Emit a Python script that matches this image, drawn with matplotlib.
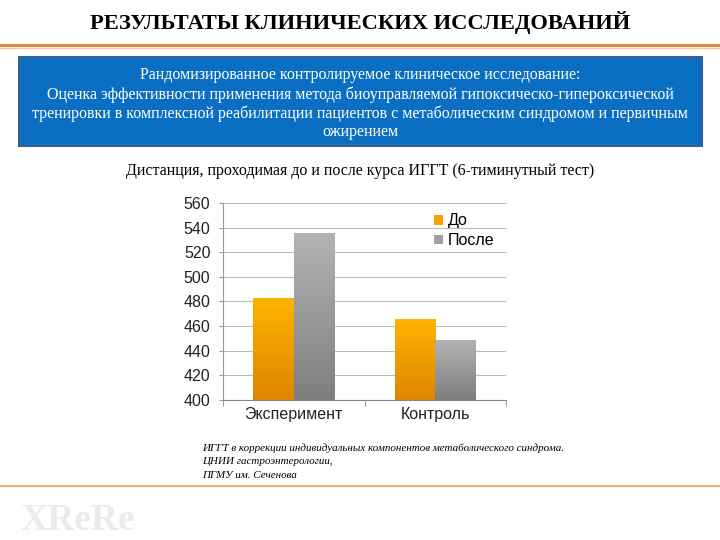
import matplotlib
matplotlib.use("Agg")
import matplotlib.pyplot as plt
import numpy as np
from matplotlib.patches import Rectangle
from matplotlib.colors import LinearSegmentedColormap

categories = ["Эксперимент", "Контроль"]
series_names = ["До", "После"]
before = [483, 466]
after = [536, 449]
yticks = [400, 420, 440, 460, 480, 500, 520, 540, 560]

title = "РЕЗУЛЬТАТЫ КЛИНИЧЕСКИХ ИССЛЕДОВАНИЙ"
box_text = ("Рандомизированное контролируемое клиническое исследование:\n"
            "Оценка эффективности применения метода биоуправляемой гипоксическо-гипероксической\n"
            "тренировки в комплексной реабилитации пациентов с метаболическим синдромом и первичным\n"
            "ожирением")
chart_title = "Дистанция, проходимая до и после курса ИГГТ (6-тиминутный тест)"
footnote = ["ИГГТ в коррекции индивидуальных компонентов метаболического синдрома.",
            "ЦНИИ гастроэнтерологии,",
            "ПГМУ им. Сеченова"]

fig = plt.figure(figsize=(7.2, 5.4), dpi=100)
fig.patch.set_facecolor("white")

# Header
fig.text(0.5, 1 - 22/540, title, ha="center", va="center", fontsize=16.2,
         fontweight="bold", family="Liberation Serif")
fig.add_artist(plt.Line2D([0, 1], [1 - 45/540]*2, color="#E8883A", lw=2.2))
fig.add_artist(plt.Line2D([0, 1], [1 - 47.5/540]*2, color="#F8C9A0", lw=1))

# Blue box
bx0, bx1, by0, by1 = 19/720, 702/720, 1 - 146/540, 1 - 57/540
fig.add_artist(Rectangle((bx0, by0), bx1 - bx0, by1 - by0, transform=fig.transFigure,
                         facecolor="#0A6FC2", edgecolor="#3A5E8C", lw=1.5))
fig.text(0.5, 1 - 103.8/540, box_text, ha="center", va="center", color="white",
         fontsize=11.5, family="Liberation Serif", linespacing=1.21)

fig.text(0.5, 1 - 171/540, chart_title, ha="center", va="center", fontsize=11.5,
         family="Liberation Serif")

# Footnote
for i, line in enumerate(footnote):
    fig.text(202/720, 1 - (448 + i*14)/540, line, ha="left", va="center", fontsize=7.9,
             family="Liberation Serif", style="italic")

fig.add_artist(plt.Line2D([0, 1], [1 - 486/540]*2, color="#F0AD6E", lw=1.4))

# Faint logo
fig.text(20/720, 1 - 521/540, "XReRe", ha="left", va="center", fontsize=27,
         family="Liberation Serif", color="#EBEBEB", fontweight="bold")

# Chart
ax = fig.add_axes([223/720, 1 - 400/540, 283/720, 197/540])
x = np.arange(len(categories))
w = 0.285
b1 = ax.bar(x - w/2, np.array(before) - 400, w, bottom=400, color="#F5A300", zorder=3, label=series_names[0])
b2 = ax.bar(x + w/2, np.array(after) - 400, w, bottom=400, color="#A0A0A0", zorder=3, label=series_names[1])

cm_o = LinearSegmentedColormap.from_list("o", ["#DC8600", "#FFB400"])
cm_g = LinearSegmentedColormap.from_list("g", ["#7E7E7E", "#B4B4B4"])
grad = np.linspace(0, 1, 256).reshape(-1, 1)
for bars, cm in ((b1, cm_o), (b2, cm_g)):
    for p in bars:
        x0, y0 = p.get_x(), p.get_y()
        im = ax.imshow(grad, cmap=cm, origin="lower", aspect="auto",
                       extent=[x0, x0 + p.get_width(), y0, y0 + p.get_height()], zorder=3)
        im.set_clip_path(p)
        p.set_facecolor("none")

ax.set_xlim(-0.5, 1.5)
ax.set_ylim(400, 560)
ax.set_yticks(yticks)
ax.set_xticks(x)
ax.set_xticklabels(categories)
ax.set_xticks([-0.5, 0.5, 1.5], minor=True)
ax.tick_params(axis="x", which="major", length=0, pad=5)
ax.tick_params(axis="x", which="minor", length=4, color="#888888")
ax.tick_params(axis="y", length=3, color="#999999", pad=6)
for lbl in ax.get_xticklabels() + ax.get_yticklabels():
    lbl.set_family("Liberation Sans")
    lbl.set_fontsize(11.5)
    lbl.set_color("#222222")
ax.yaxis.grid(True, color="#BBBBBB", lw=0.8, zorder=0)
for s in ["top", "right"]:
    ax.spines[s].set_visible(False)
ax.spines["left"].set_color("#999999")
ax.spines["bottom"].set_color("#888888")

leg = ax.legend(loc="upper right", bbox_to_anchor=(1.01, 1.02), frameon=False,
                handlelength=0.55, handleheight=0.55, handletextpad=0.3, labelspacing=0.3,
                prop={"family": "Liberation Sans", "size": 11.5})
leg.legend_handles[0].set_facecolor("#F5A300")
leg.legend_handles[1].set_facecolor("#A0A0A0")

fig.savefig("out.png", dpi=100)
